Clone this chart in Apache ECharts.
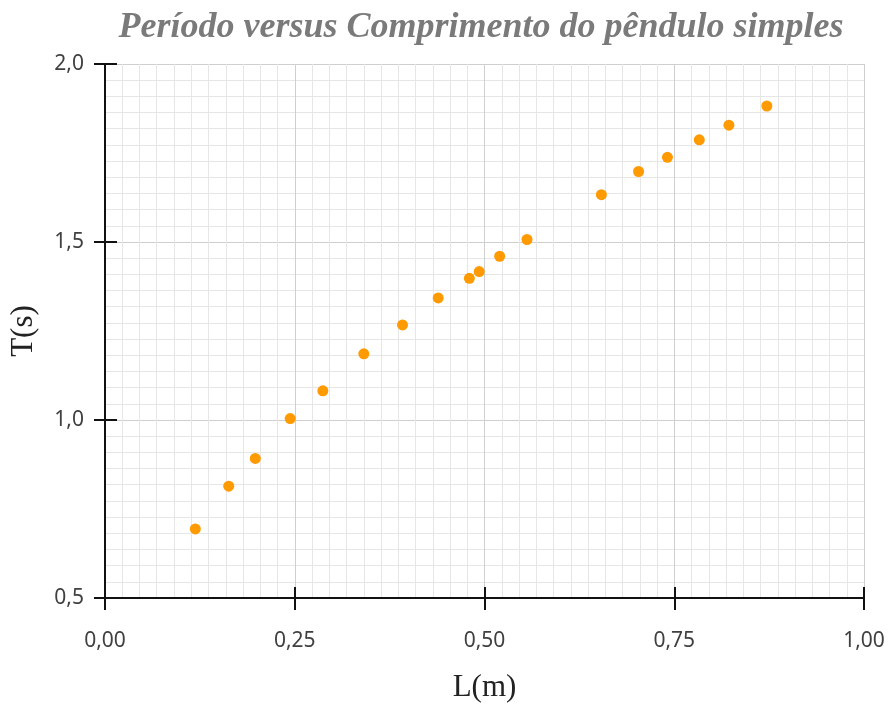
<!DOCTYPE html>
<html>
<head>
<meta charset="utf-8">
<script src="https://cdn.jsdelivr.net/npm/echarts@6/dist/echarts.min.js"></script>
<style>html,body{margin:0;padding:0;background:#fff}#c{width:890px;height:708px}</style>
</head>
<body>
<div id="c"></div>
<script>
const titleText = 'Período versus Comprimento do pêndulo simples';
const xName = 'L(m)';
const yName = 'T(s)';
const lengths = [0.119, 0.163, 0.198, 0.244, 0.287, 0.341, 0.392, 0.439, 0.480, 0.493, 0.520, 0.556, 0.654, 0.703, 0.741, 0.783, 0.822, 0.872];
const periods = [0.694, 0.814, 0.892, 1.004, 1.082, 1.186, 1.267, 1.343, 1.398, 1.417, 1.460, 1.507, 1.633, 1.698, 1.738, 1.787, 1.828, 1.882];
const xTicks = [0, 0.25, 0.5, 0.75, 1.0];
const yTicks = [0.5, 1.0, 1.5, 2.0];

const pts = lengths.map((l, i) => [l, periods[i]]);
const chart = echarts.init(document.getElementById('c'));
const labelFont = {fontFamily: 'Noto Sans', fontSize: 21, color: '#404040'};
const baseX = {type: 'value', min: xTicks[0], max: xTicks[xTicks.length-1], interval: 0.25};
const baseY = {type: 'value', min: yTicks[0], max: yTicks[yTicks.length-1], interval: 0.5};
chart.setOption({
  animation: false,
  title: {
    text: titleText, left: 476, top: 5, textAlign: 'center',
    textStyle: {fontFamily: 'Liberation Serif', fontStyle: 'italic', fontWeight: 'bold', fontSize: 36, color: '#7a7a7a'}
  },
  grid: {left: 100.5, right: 26, top: 64, bottom: 108, containLabel: false},
  xAxis: [
    Object.assign({}, baseX, {
      position: 'bottom',
      name: xName, nameLocation: 'middle', nameGap: 74,
      nameTextStyle: {fontFamily: 'Liberation Serif', fontSize: 31, color: '#222'},
      axisLine: {show: true, onZero: false, lineStyle: {color: '#111', width: 2}},
      axisTick: {show: true, length: 12, lineStyle: {color: '#111', width: 2}},
      axisLabel: Object.assign({margin: 33, formatter: v => v.toFixed(2).replace('.', ',')}, labelFont),
      splitLine: {show: true, lineStyle: {color: '#cfcfcf', width: 1}},
      minorTick: {show: false, splitNumber: 11},
      minorSplitLine: {show: true, lineStyle: {color: '#e6e6e6', width: 1}}
    }),
    Object.assign({}, baseX, {
      position: 'bottom',
      axisLine: {show: false},
      axisTick: {show: true, inside: true, length: 11, lineStyle: {color: '#111', width: 2}},
      axisLabel: {show: false},
      splitLine: {show: false}
    })
  ],
  yAxis: [
    Object.assign({}, baseY, {
      position: 'left',
      name: yName, nameLocation: 'middle', nameGap: 66,
      nameTextStyle: {fontFamily: 'Liberation Serif', fontSize: 31, color: '#222'},
      axisLine: {show: true, onZero: false, lineStyle: {color: '#111', width: 2}},
      axisTick: {show: true, length: 11, lineStyle: {color: '#111', width: 2}},
      axisLabel: Object.assign({margin: 21, formatter: v => v.toFixed(1).replace('.', ',')}, labelFont),
      splitLine: {show: true, lineStyle: {color: '#cfcfcf', width: 1}},
      minorTick: {show: false, splitNumber: 11},
      minorSplitLine: {show: true, lineStyle: {color: '#e6e6e6', width: 1}}
    }),
    Object.assign({}, baseY, {
      position: 'left',
      axisLine: {show: false},
      axisTick: {show: true, inside: true, length: 12, lineStyle: {color: '#111', width: 2}},
      axisLabel: {show: false},
      splitLine: {show: false}
    })
  ],
  series: [{
    type: 'scatter', xAxisIndex: 0, yAxisIndex: 0,
    data: pts, symbol: 'circle', symbolSize: 11,
    itemStyle: {color: '#ff9a00', opacity: 1}
  }]
});
</script>
</body>
</html>
